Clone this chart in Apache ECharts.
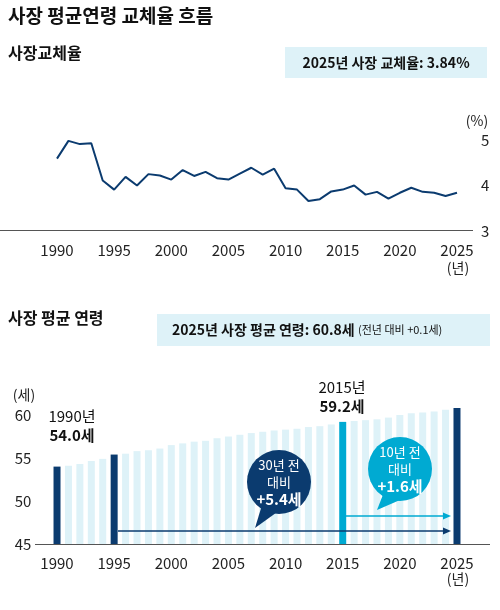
<!DOCTYPE html>
<html><head><meta charset="utf-8">
<script src="https://cdn.jsdelivr.net/npm/echarts@6/dist/echarts.min.js"></script>
<style>body{margin:0}#c{width:500px;height:610px}</style></head>
<body><div id="c"></div>
<script>
const years = [];
for (let y = 1990; y <= 2025; y++) years.push(String(y));
const turnoverRate = [4.59,4.98,4.91,4.93,4.11,3.91,4.19,4.00,4.25,4.22,4.13,4.34,4.21,4.30,4.16,4.13,4.26,4.39,4.24,4.37,3.94,3.91,3.66,3.70,3.87,3.91,4.00,3.80,3.86,3.71,3.84,3.95,3.86,3.84,3.77,3.84];
const avgAge = [54.0,54.1,54.3,54.65,54.9,55.4,55.5,55.8,55.9,56.1,56.5,56.7,56.9,57.0,57.3,57.5,57.7,57.9,58.05,58.2,58.3,58.4,58.6,58.7,58.9,59.2,59.3,59.4,59.5,59.7,60.0,60.2,60.3,60.4,60.6,60.8];
const highlightYears = ['1990','1995','2025'];
const cyanYears = ['2015'];

const NAVY = '#0b3b6f', CYAN = '#00aad2', LIGHT = '#def2f8';
const F = 'Noto Sans CJK KR';
const chart = echarts.init(document.getElementById('c'));
const lbl = {fontFamily: F, fontSize: 15, color: '#222'};
const g = [
    {type: 'text', left: 8, top: 6, style: {text: '사장 평균연령 교체율 흐름', font: 'bold 19px "Noto Sans CJK KR"', fill: '#111'}},
    {type: 'text', left: 8, top: 45, style: {text: '사장교체율', font: 'bold 16px "Noto Sans CJK KR"', fill: '#111'}},
    {type: 'rect', shape: {x: 285, y: 47, width: 202, height: 31}, style: {fill: LIGHT}},
    {type: 'text', x: 386, y: 62.5, style: {text: '2025년 사장 교체율: 3.84%', font: 'bold 14px "Noto Sans CJK KR"', fill: '#111', align: 'center', verticalAlign: 'middle'}},
    {type: 'text', x: 477, y: 121, style: {text: '(%)', font: '14px "Noto Sans CJK KR"', fill: '#222', align: 'center', verticalAlign: 'middle'}},
    {type: 'line', shape: {x1: 0, y1: 230.5, x2: 473, y2: 230.5}, style: {stroke: '#555', lineWidth: 1}},
    {type: 'text', x: 458, y: 268, style: {text: '(년)', font: '14px "Noto Sans CJK KR"', fill: '#222', align: 'center', verticalAlign: 'middle'}},

    {type: 'text', left: 8, top: 310, style: {text: '사장 평균 연령', font: 'bold 16px "Noto Sans CJK KR"', fill: '#111'}},
    {type: 'rect', shape: {x: 157, y: 314, width: 333, height: 32}, style: {fill: LIGHT}},
    {type: 'text', x: 172, y: 330, style: {rich: {a: {font: 'bold 14px "Noto Sans CJK KR"', fill: '#111'}, b: {font: '11px "Noto Sans CJK KR"', fill: '#111'}}, text: '{a|2025년 사장 평균 연령: 60.8세} {b|(전년 대비 +0.1세)}', verticalAlign: 'middle'}},
    {type: 'text', x: 24, y: 395, style: {text: '(세)', font: '14px "Noto Sans CJK KR"', fill: '#222', align: 'center', verticalAlign: 'middle'}},
    {type: 'line', shape: {x1: 35, y1: 544.5, x2: 490, y2: 544.5}, style: {stroke: '#555', lineWidth: 1}},
    {type: 'text', x: 458, y: 579, style: {text: '(년)', font: '14px "Noto Sans CJK KR"', fill: '#222', align: 'center', verticalAlign: 'middle'}},
    {type: 'text', x: 72, y: 426, style: {text: '1990년\n{b|54.0세}', rich: {b: {font: 'bold 15px "Noto Sans CJK KR"', fill: '#111'}}, font: '15px "Noto Sans CJK KR"', fill: '#111', align: 'center', verticalAlign: 'middle', lineHeight: 19}},
    {type: 'text', x: 342, y: 397, style: {text: '2015년\n{b|59.2세}', rich: {b: {font: 'bold 15px "Noto Sans CJK KR"', fill: '#111'}}, font: '15px "Noto Sans CJK KR"', fill: '#111', align: 'center', verticalAlign: 'middle', lineHeight: 19}},
    {type: 'line', shape: {x1: 118, y1: 531, x2: 446, y2: 531}, style: {stroke: NAVY, lineWidth: 1.5}},
    {type: 'polygon', shape: {points: [[451,531],[443,527.5],[443,534.5]]}, style: {fill: NAVY}},
    {type: 'line', shape: {x1: 346, y1: 516, x2: 446, y2: 516}, style: {stroke: CYAN, lineWidth: 1.5}},
    {type: 'polygon', shape: {points: [[451,516],[443,512.5],[443,519.5]]}, style: {fill: CYAN}},
    {type: 'polygon', shape: {points: [[262,505],[280,510],[255,528]]}, style: {fill: NAVY}},
    {type: 'circle', shape: {cx: 279, cy: 482, r: 32}, style: {fill: NAVY}},
    {type: 'text', x: 279, y: 482, style: {text: '30년 전\n대비\n{b|+5.4세}', rich: {b: {font: 'bold 15px "Noto Sans CJK KR"', fill: '#fff'}}, font: '13px "Noto Sans CJK KR"', fill: '#fff', align: 'center', verticalAlign: 'middle', lineHeight: 17}},
    {type: 'polygon', shape: {points: [[384,492],[400,500],[377,510]]}, style: {fill: CYAN}},
    {type: 'circle', shape: {cx: 400, cy: 469, r: 32}, style: {fill: CYAN}},
    {type: 'text', x: 400, y: 469, style: {text: '10년 전\n대비\n{b|+1.6세}', rich: {b: {font: 'bold 15px "Noto Sans CJK KR"', fill: '#fff'}}, font: '13px "Noto Sans CJK KR"', fill: '#fff', align: 'center', verticalAlign: 'middle', lineHeight: 17}}
];
g.forEach((e, i) => { e.z = 100; e.zlevel = 0; });
g[2].z = 1; g[8].z = 1;
chart.setOption({
  animation: false,
  textStyle: {fontFamily: F},
  grid: [
    {left: 57, right: 43, top: 140, height: 91},
    {left: 51.3, right: 37.3, top: 406.4, height: 137.6}
  ],
  xAxis: [
    {gridIndex: 0, type: 'category', data: years, boundaryGap: false,
     axisLine: {show: false}, axisTick: {show: false},
     axisLabel: Object.assign({interval: 4, margin: 12}, lbl)},
    {gridIndex: 1, type: 'category', data: years,
     axisLine: {show: false}, axisTick: {show: false},
     axisLabel: Object.assign({interval: 4, margin: 12}, lbl)}
  ],
  yAxis: [
    {gridIndex: 0, type: 'value', min: 3, max: 5, interval: 1, position: 'right',
     splitLine: {show: false}, axisLine: {show: false}, axisTick: {show: false},
     axisLabel: Object.assign({margin: 24}, lbl)},
    {gridIndex: 1, type: 'value', min: 45, max: 61, interval: 5,
     splitLine: {show: false}, axisLine: {show: false}, axisTick: {show: false},
     axisLabel: Object.assign({margin: 20, showMaxLabel: false}, lbl)}
  ],
  series: [
    {type: 'line', xAxisIndex: 0, yAxisIndex: 0, data: turnoverRate, symbol: 'none',
     lineStyle: {color: NAVY, width: 2}},
    {type: 'bar', xAxisIndex: 1, yAxisIndex: 1, barWidth: 7,
     data: avgAge.map((v, i) => ({value: v, itemStyle: {color:
       highlightYears.includes(years[i]) ? NAVY : cyanYears.includes(years[i]) ? CYAN : LIGHT}}))}
  ],
  graphic: g
});
</script></body></html>
